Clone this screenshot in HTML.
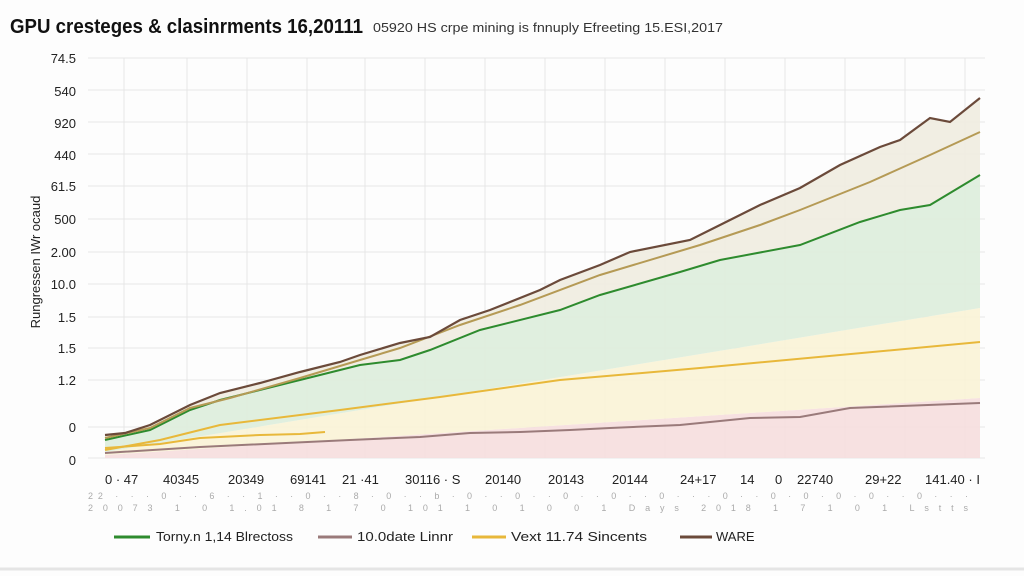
<!DOCTYPE html>
<html><head><style>
body{margin:0;background:#fff;width:1024px;height:576px;overflow:hidden;font-family:"Liberation Sans",sans-serif;}
</style></head><body>
<svg width="1024" height="576" xmlns="http://www.w3.org/2000/svg" font-family="Liberation Sans, sans-serif">
<rect width="1024" height="576" fill="#fdfdfd"/>
<text x="10" y="33" font-size="20" font-weight="bold" fill="#111" textLength="353" lengthAdjust="spacingAndGlyphs">GPU cresteges &amp; clasinrments 16,20111</text>
<text x="373" y="32" font-size="13" fill="#333" textLength="350" lengthAdjust="spacingAndGlyphs">05920 HS crpe mining is fnnuply Efreeting 15.ESI,2017</text>
<g stroke="#e6e6e6" stroke-width="1">
<line x1="88" y1="58" x2="985" y2="58"/><line x1="88" y1="90" x2="985" y2="90"/><line x1="88" y1="122" x2="985" y2="122"/><line x1="88" y1="154" x2="985" y2="154"/><line x1="88" y1="186" x2="985" y2="186"/><line x1="88" y1="219" x2="985" y2="219"/><line x1="88" y1="252" x2="985" y2="252"/><line x1="88" y1="284" x2="985" y2="284"/><line x1="88" y1="317" x2="985" y2="317"/><line x1="88" y1="348" x2="985" y2="348"/><line x1="88" y1="380" x2="985" y2="380"/><line x1="88" y1="427" x2="985" y2="427"/><line x1="88" y1="458" x2="985" y2="458"/>
<line x1="124" y1="58" x2="124" y2="458"/><line x1="187" y1="58" x2="187" y2="458"/><line x1="247" y1="58" x2="247" y2="458"/><line x1="307" y1="58" x2="307" y2="458"/><line x1="365" y1="58" x2="365" y2="458"/><line x1="425" y1="58" x2="425" y2="458"/><line x1="485" y1="58" x2="485" y2="458"/><line x1="545" y1="58" x2="545" y2="458"/><line x1="605" y1="58" x2="605" y2="458"/><line x1="665" y1="58" x2="665" y2="458"/><line x1="725" y1="58" x2="725" y2="458"/><line x1="785" y1="58" x2="785" y2="458"/><line x1="845" y1="58" x2="845" y2="458"/><line x1="905" y1="58" x2="905" y2="458"/><line x1="965" y1="58" x2="965" y2="458"/>
</g>
<g font-size="13" fill="#222" text-anchor="end">
<text x="76" y="63">74.5</text><text x="76" y="96">540</text><text x="76" y="128">920</text><text x="76" y="160">440</text><text x="76" y="191">61.5</text><text x="76" y="224">500</text><text x="76" y="257">2.00</text><text x="76" y="289">10.0</text><text x="76" y="322">1.5</text><text x="76" y="353">1.5</text><text x="76" y="385">1.2</text><text x="76" y="432">0</text><text x="76" y="465">0</text>
</g>
<text transform="translate(40,262) rotate(-90)" font-size="13" fill="#222" text-anchor="middle">Rungressen IWr ocaud</text>
<polygon points="105,455 980,398 980,458 105,458" fill="#f6dcdc" opacity="0.85"/>
<polygon points="105,452 980,308 980,398 105,455" fill="#faf3d6" opacity="0.9"/>
<polygon points="105,440 150,430 190,410 220,400 300,380 360,365 400,360 430,350 480,330 560,310 600,295 680,272 720,260 800,245 860,222 900,210 930,205 980,175 980,308 105,452" fill="#deeedd" opacity="0.95"/>
<polygon points="105,435 125,433 150,425 190,405 220,393 260,383 300,372 340,362 360,355 400,343 430,337 460,320 490,310 540,290 560,280 600,265 630,252 690,240 720,225 760,205 800,188 840,165 880,147 900,140 930,118 950,122 980,98 980,175 930,205 900,210 860,222 800,245 720,260 680,272 600,295 560,310 480,330 430,350 400,360 360,365 300,380 220,400 190,410 150,430 105,440" fill="#efece0" opacity="0.9"/>
<polyline fill="none" stroke="#9a7a7a" stroke-width="2" points="105,453 200,447 350,440 420,437 470,433 520,432 570,430 610,428 680,425 750,418 800,417 850,408 980,403"/>
<polyline fill="none" stroke="#e8b83a" stroke-width="2" points="105,450 160,440 220,425 340,410 440,397 560,380 700,368 980,342"/>
<polyline fill="none" stroke="#e8b83a" stroke-width="2" points="105,448 160,444 200,438 260,435 300,434 325,432"/>
<polyline fill="none" stroke="#2e8b2e" stroke-width="2" points="105,440 150,430 190,410 220,400 300,380 360,365 400,360 430,350 480,330 560,310 600,295 680,272 720,260 800,245 860,222 900,210 930,205 980,175"/>
<polyline fill="none" stroke="#b59a55" stroke-width="2" points="105,438 150,428 190,408 230,398 300,378 360,360 400,348 460,325 520,305 600,275 700,245 760,225 800,210 870,182 930,155 980,132"/>
<polyline fill="none" stroke="#6b4a3a" stroke-width="2.2" points="105,435 125,433 150,425 190,405 220,393 260,383 300,372 340,362 360,355 400,343 430,337 460,320 490,310 540,290 560,280 600,265 630,252 690,240 720,225 760,205 800,188 840,165 880,147 900,140 930,118 950,122 980,98"/>
<g font-size="13" fill="#222">
<text x="105" y="484">0 · 47</text><text x="163" y="484">40345</text><text x="228" y="484">20349</text><text x="290" y="484">69141</text><text x="342" y="484">21 ·41</text><text x="405" y="484">30116 · S</text><text x="485" y="484">20140</text><text x="548" y="484">20143</text><text x="612" y="484">20144</text><text x="680" y="484">24+17</text><text x="740" y="484">14</text><text x="775" y="484">0</text><text x="797" y="484">22740</text><text x="865" y="484">29+22</text><text x="925" y="484">141.40 · I</text>
</g>
<g font-size="9" fill="#aaa">
<text x="88" y="499" textLength="880" lengthAdjust="spacing">22 · · · 0   · · 6 · · 1 · · 0   · · 8   · 0   · · b   · 0 · · 0   · · 0   · · 0   · · 0 · · · 0   · · 0 · 0   · 0 · 0   · · 0   · · ·</text>
<text x="88" y="511" textLength="880" lengthAdjust="spacing">20073  1  0   1.01  8  1  7  0   101  1  0  1  0   0  1  Days  2018  1  7  1  0   1  Lstts</text>
</g>
<g font-size="13" fill="#222">
<line x1="114" y1="537" x2="150" y2="537" stroke="#2e8b2e" stroke-width="3"/><text x="156" y="541" textLength="137" lengthAdjust="spacingAndGlyphs">Torny.n 1,14 Blrectoss</text>
<line x1="318" y1="537" x2="352" y2="537" stroke="#9a7a7a" stroke-width="3"/><text x="357" y="541" textLength="96" lengthAdjust="spacingAndGlyphs">10.0date Linnr</text>
<line x1="472" y1="537" x2="506" y2="537" stroke="#e8b83a" stroke-width="3"/><text x="511" y="541" textLength="136" lengthAdjust="spacingAndGlyphs">Vext 11.74 Sincents</text>
<line x1="680" y1="537" x2="712" y2="537" stroke="#6b4a3a" stroke-width="3"/><text x="716" y="541">WARE</text>
</g>
<line x1="0" y1="569" x2="1024" y2="569" stroke="#e5e5e5" stroke-width="3"/>
</svg>
</body></html>
